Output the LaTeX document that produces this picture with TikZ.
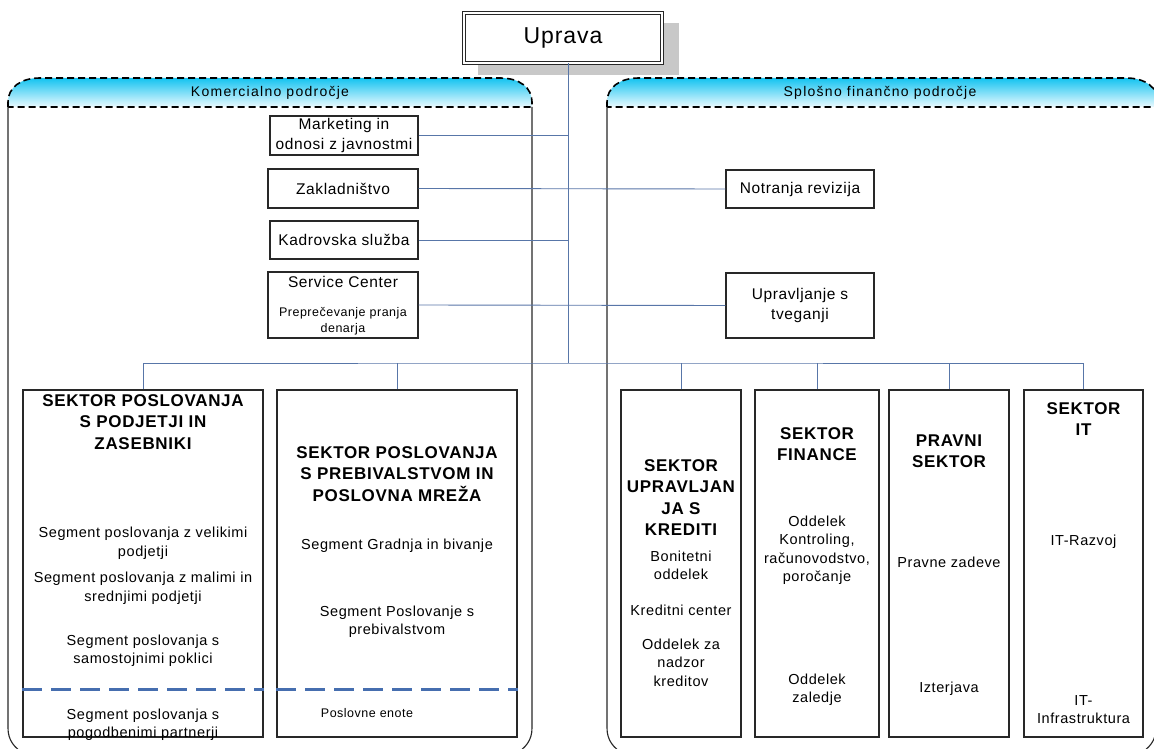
\documentclass[tikz,border=0pt]{standalone}
\usepackage{fontspec}
\setmainfont{Liberation Sans}[LetterSpace=4]
\definecolor{conn}{RGB}{88,118,168}
\definecolor{bord}{RGB}{40,40,40}
\definecolor{dashblue}{RGB}{70,110,175}
\definecolor{hdtop}{RGB}{20,195,240}
\definecolor{hdbot}{RGB}{235,250,255}
\definecolor{shadowgray}{RGB}{200,200,200}
\begin{document}
\begin{tikzpicture}[x=1pt,y=-1pt,
  conn/.style={draw=conn, line width=0.9pt},
  box/.style={draw=bord, line width=1.1pt, fill=white, inner sep=0pt},
  sbox/.style={box, align=center, font=\fontsize{15.5}{20}\selectfont},
  secbox/.style={box, minimum height=347},
  hd/.style={align=center, inner sep=0pt, font=\fontsize{17}{21.5}\selectfont\bfseries},
  tx/.style={align=center, inner sep=0pt, font=\fontsize{14.5}{18.5}\selectfont},
  sm/.style={align=center, inner sep=0pt, font=\fontsize{12.5}{16}\selectfont},
  areahd/.style={top color=hdtop, bottom color=hdbot},
  areaout/.style={draw=black, line width=1.6pt, dash pattern=on 7pt off 4pt},
  areabody/.style={draw=bord, line width=1.1pt},
  segline/.style={draw=dashblue, line width=3pt, dash pattern=on 20pt off 9pt},
  areatxt/.style={inner sep=0pt, font=\fontsize{14}{16}\selectfont\addfontfeature{LetterSpace=9}}
]
\useasboundingbox (0,0) rectangle (1154,749);
\fill[white] (0,0) rectangle (1154,749);
\clip (0,0) rectangle (1154,749);

% ---- areas ----
\path[areahd] (8,107) -- (8,102) .. controls (8,88) and (20,78) .. (40,78) -- (500,78) .. controls (520,78) and (532,88) .. (532,102) -- (532,107) -- cycle;
\path[areaout] (8,107) -- (8,102) .. controls (8,88) and (20,78) .. (40,78) -- (500,78) .. controls (520,78) and (532,88) .. (532,102) -- (532,107) -- cycle;
\node[areatxt] (kom) at (270,93) {Komercialno področje};
\draw[areabody] (8,107) -- (8,728) .. controls (8,740) and (14,748) .. (26,755);
\draw[areabody] (532,107) -- (532,728) .. controls (532,740) and (526,748) .. (514,755);

\path[areahd] (607,107) -- (607,102) .. controls (607,88) and (619,78) .. (639,78) -- (1126,78) .. controls (1146,78) and (1158,88) .. (1158,102) -- (1158,107) -- cycle;
\path[areaout] (607,107) -- (607,102) .. controls (607,88) and (619,78) .. (639,78) -- (1126,78) .. controls (1146,78) and (1158,88) .. (1158,102) -- (1158,107) -- cycle;
\node[areatxt] (spl) at (880,93) {Splošno finančno področje};
\draw[areabody] (607,107) -- (607,728) .. controls (607,740) and (613,748) .. (625,755);
\draw[areabody] (1156,107) -- (1156,728) .. controls (1156,740) and (1150,748) .. (1138,755);

% ---- Uprava ----
\fill[shadowgray] (478,23) rectangle (679,75);
\node[box, draw=bord, line width=0.9pt, double=white, double distance=2pt, minimum width=198, minimum height=50, font=\fontsize{23}{26}\selectfont] (up) at (563,38) {Uprava};

% ---- nodes ----
\coordinate (bus) at (568,363);
\node[sbox, minimum width=148, minimum height=39] (mk) at (344,135.5) {Marketing in\\odnosi z javnostmi};
\node[sbox, minimum width=150, minimum height=39] (zk) at (343,188.5) {Zakladništvo};
\node[sbox, minimum width=148, minimum height=38] (kd) at (344,240) {Kadrovska služba};
\node[box, minimum width=150, minimum height=66] (sc) at (343,305) {};
\node[sbox, draw=none, fill=none] (sct) at (343,282) {Service Center};
\node[sm] (scp) at (343,321) {Preprečevanje pranja\\denarja};
\node[sbox, minimum width=148, minimum height=38] (nr) at (800,189) {Notranja revizija};
\node[sbox, minimum width=148, minimum height=65] (ut) at (800,305.5) {Upravljanje s\\tveganji};

\node[secbox, minimum width=240] (s1) at (143,563.5) {};
\node[secbox, minimum width=240] (s2) at (397,563.5) {};
\node[secbox, minimum width=120] (s3) at (681,563.5) {};
\node[secbox, minimum width=124] (s4) at (817,563.5) {};
\node[secbox, minimum width=120] (s5) at (949,563.5) {};
\node[secbox, minimum width=119] (s6) at (1083.5,563.5) {};

% ---- connectors ----
\draw[conn] (up.south -| bus) -- (bus);
\draw[conn] (s1.north) |- (bus) -| (s6.north);
\foreach \s in {s2,s3,s4,s5} \draw[conn] (\s.north) -- (\s.north |- bus);
\draw[conn] (mk.east) -- (mk.east -| bus);
\draw[conn] (kd.east) -- (kd.east -| bus);
\draw[conn] (zk.east) -- (nr.west);
\draw[conn] (sc.east) -- (ut.west);

% ---- sector 1 ----
\node[hd] (h1) at (143,422) {SEKTOR POSLOVANJA\\S PODJETJI IN\\ZASEBNIKI};
\node[tx] (a1) at (143,543) {Segment poslovanja z velikimi\\podjetji};
\node[tx] (a2) at (143,588) {Segment poslovanja z malimi in\\srednjimi podjetji};
\node[tx] (a3) at (143,650.5) {Segment poslovanja s\\samostojnimi poklici};
\draw[segline] (s1.west |- 0,689) -- (s1.east |- 0,689);
\node[tx] (a4) at (143,724.5) {Segment poslovanja s\\pogodbenimi partnerji};

% ---- sector 2 ----
\node[hd] (h2) at (397,474) {SEKTOR POSLOVANJA\\S PREBIVALSTVOM IN\\POSLOVNA MREŽA};
\node[tx] (b1) at (397,546) {Segment Gradnja in bivanje};
\node[tx] (b2) at (397,621.5) {Segment Poslovanje s\\prebivalstvom};
\draw[segline] (s2.west |- 0,689) -- (s2.east |- 0,689);
\node[sm] (b3) at (367,713) {Poslovne enote};

% ---- sector 3 ----
\node[hd] (h3) at (681,497.5) {SEKTOR\\UPRAVLJAN\\JA S\\KREDITI};
\node[tx] (c1) at (681,565.5) {Bonitetni\\oddelek};
\node[tx] (c2) at (681,610) {Kreditni center};
\node[tx] (c3) at (681,662.5) {Oddelek za\\nadzor\\kreditov};

% ---- sector 4 ----
\node[hd] (h4) at (817,444) {SEKTOR\\FINANCE};
\node[tx] (d1) at (817,550) {Oddelek\\Kontroling,\\računovodstvo,\\poročanje};
\node[tx] (d2) at (817,689.5) {Oddelek\\zaledje};

% ---- sector 5 ----
\node[hd] (h5) at (949,451) {PRAVNI\\SEKTOR};
\node[tx] (e1) at (949,562) {Pravne zadeve};
\node[tx] (e2) at (949,689) {Izterjava};

% ---- sector 6 ----
\node[hd] (h6) at (1083.5,419) {SEKTOR\\IT};
\node[tx] (f1) at (1083.5,542) {IT-Razvoj};
\node[tx] (f2) at (1083.5,709.5) {IT-\\Infrastruktura};
\end{tikzpicture}
\end{document}
